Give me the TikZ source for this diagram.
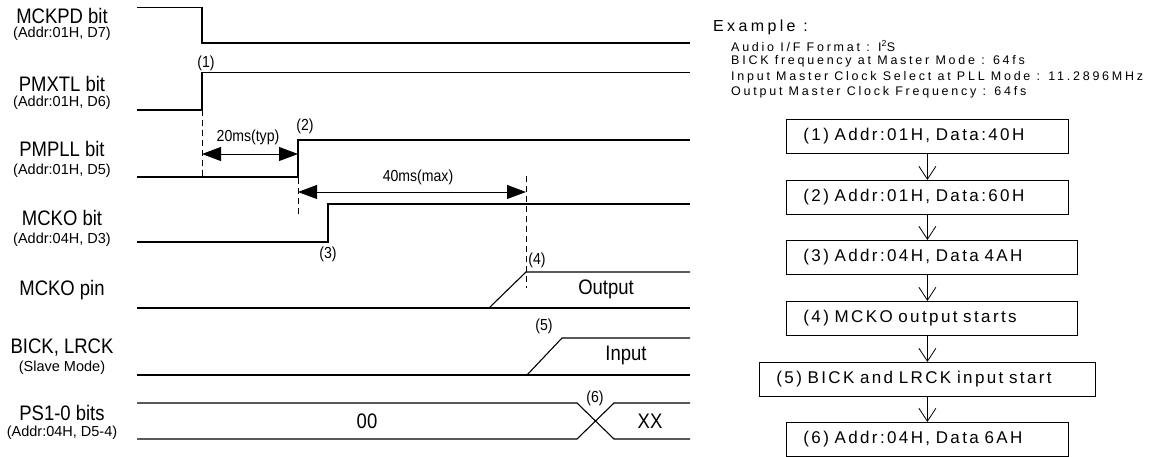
\documentclass[tikz,border=0pt]{standalone}
\usepackage{fontspec}
\setmainfont{Liberation Sans}
\newfontfamily\nar[FakeStretch=0.88]{Liberation Sans}
\newfontfamily\exf[LetterSpace=21]{Liberation Sans}
\newfontfamily\lsf[LetterSpace=22]{Liberation Sans}
\newfontfamily\bxf[LetterSpace=14]{Liberation Sans}
\usetikzlibrary{arrows.meta}
\tikzset{
  sig/.style={line width=1.1pt, line join=miter},
  lbl/.style={font=\nar\fontsize{21}{21}\selectfont, inner sep=0pt},
  sublbl/.style={font=\fontsize{14.5}{15}\selectfont, inner sep=0pt},
  num/.style={font=\nar\fontsize{16}{16}\selectfont, inner sep=0pt},
  val/.style={font=\nar\fontsize{21}{21}\selectfont, inner sep=0pt},
  dim/.style={line width=0.9pt, {Triangle[length=19pt,width=14pt]}-{Triangle[length=19pt,width=14pt]}},
  guide/.style={line width=0.9pt, dash pattern=on 6pt off 4pt},
  fbox/.style={draw, line width=0.8pt, minimum height=34pt, inner xsep=17pt, inner ysep=0pt, align=left, anchor=north west, font=\bxf\fontsize{17}{17}\selectfont},
  flow/.style={line width=0.8pt, -{Straight Barb[length=13pt,width=17pt,line width=0.8pt]}},
  extxt/.style={anchor=west, inner sep=0pt, font=\lsf\fontsize{12.5}{12.5}\selectfont}
}
\begin{document}
\begin{tikzpicture}[x=1pt,y=-1pt]
\useasboundingbox (0,0) rectangle (1154,457);

% ---------- left labels ----------
\node[lbl] (l1) at (62,15.5) {MCKPD bit};
\node[sublbl] (s1) at (62,34) {(Addr:01H, D7)};
\node[lbl] (l2) at (62,84) {PMXTL bit};
\node[sublbl] (s2) at (62,103) {(Addr:01H, D6)};
\node[lbl] (l3) at (62,149) {PMPLL bit};
\node[sublbl] (s3) at (62,171) {(Addr:01H, D5)};
\node[lbl] (l4) at (62,218) {MCKO bit};
\node[sublbl] (s4) at (62,240) {(Addr:04H, D3)};
\node[lbl] (l5) at (62,290) {MCKO pin};
\node[lbl] (l6) at (62,348) {BICK, LRCK};
\node[sublbl] (s6) at (62,368) {(Slave Mode)};
\node[lbl] (l7) at (62,413) {PS1-0 bits};
\node[sublbl] (s7) at (62,433) {(Addr:04H, D5-4)};

% ---------- waveforms ----------
% MCKPD
\draw[sig] (137,7.5) -- (202,7.5) -- (202,43) -- (690,43);
% PMXTL
\draw[sig] (137,110) -- (202,110) -- (202,72.5) -- (690,72.5);
% PMPLL
\draw[sig] (137,177) -- (298,177) -- (298,140) -- (690,140);
% MCKO bit
\draw[sig] (137,242) -- (328,242) -- (328,204) -- (690,204);
% MCKO pin
\draw[sig] (137,308) -- (690,308);
\draw[sig] (489,308) -- (526,272) -- (690,272);
% BICK, LRCK
\draw[sig] (137,375) -- (690,375);
\draw[sig] (527,375) -- (562,338) -- (690,338);
% PS1-0
\draw[sig] (137,403) -- (577,403) -- (614,439) -- (690,439);
\draw[sig] (137,439) -- (577,439) -- (614,403) -- (690,403);

% ---------- guides ----------
\coordinate (g1a) at (202,110);
\coordinate (g1b) at (202,178);
\coordinate (g2a) at (298,178);
\coordinate (g2b) at (298,216);
\coordinate (g3a) at (526,176);
\coordinate (g3b) at (526,288);
\draw[guide] (g1a) -- (g1b);
\draw[guide] (g2a) -- (g2b);
\draw[guide] (g3a) -- (g3b);

% ---------- timing arrows ----------
\coordinate (t1) at (202,154);
\coordinate (t2) at (298,154);
\draw[dim] (t1) -- (t2);
\node[num] (d1) at (248,137) {20ms(typ)};
\coordinate (t3) at (298,192);
\coordinate (t4) at (526,192);
\draw[dim] (t3) -- (t4);
\node[num] (d2) at (418,177) {40ms(max)};

% ---------- step numbers ----------
\node[num] (n1) at (206,63) {(1)};
\node[num] (n2) at (305,126) {(2)};
\node[num] (n3) at (328,254) {(3)};
\node[num] (n4) at (537,260) {(4)};
\node[num] (n5) at (544,326) {(5)};
\node[num] (n6) at (595,398) {(6)};

% ---------- values ----------
\node[val] (v1) at (606,289) {Output};
\node[val] (v2) at (626,355) {Input};
\node[val] (v3) at (367,421) {00};
\node[val] (v4) at (650,421) {XX};

% ---------- example text ----------
\node[anchor=west, inner sep=0pt, font=\exf\fontsize{16}{16}\selectfont] (ex) at (713,27) {Example :};
\node[extxt] (e1) at (731,46) {Audio I/F Format : I\textsuperscript{2}S};
\node[extxt] (e2) at (731,61.5) {BICK frequency at Master Mode : 64fs};
\node[extxt] (e3) at (731,77) {Input Master Clock Select at PLL Mode : 11.2896MHz};
\node[extxt] (e4) at (731,92.5) {Output Master Clock Frequency : 64fs};

% ---------- flow boxes ----------
\node[fbox, text width=248pt] (b1) at (786,119) {(1) Addr:01H, Data:40H};
\node[fbox, text width=248pt] (b2) at (786,180) {(2) Addr:01H, Data:60H};
\node[fbox, text width=257pt] (b3) at (786,240) {(3) Addr:04H, Data 4AH};
\node[fbox, text width=257pt] (b4) at (786,301) {(4) MCKO output starts};
\node[fbox, text width=302pt] (b5) at (759,362) {(5) BICK and LRCK input start};
\node[fbox, text width=248pt] (b6) at (786,422) {(6) Addr:04H, Data 6AH};

\draw[flow] (b1.south) -- (b1.south |- b2.north);
\draw[flow] (b1.south |- b2.south) -- (b1.south |- b3.north);
\draw[flow] (b1.south |- b3.south) -- (b1.south |- b4.north);
\draw[flow] (b1.south |- b4.south) -- (b1.south |- b5.north);
\draw[flow] (b1.south |- b5.south) -- (b1.south |- b6.north);
\end{tikzpicture}
\end{document}
